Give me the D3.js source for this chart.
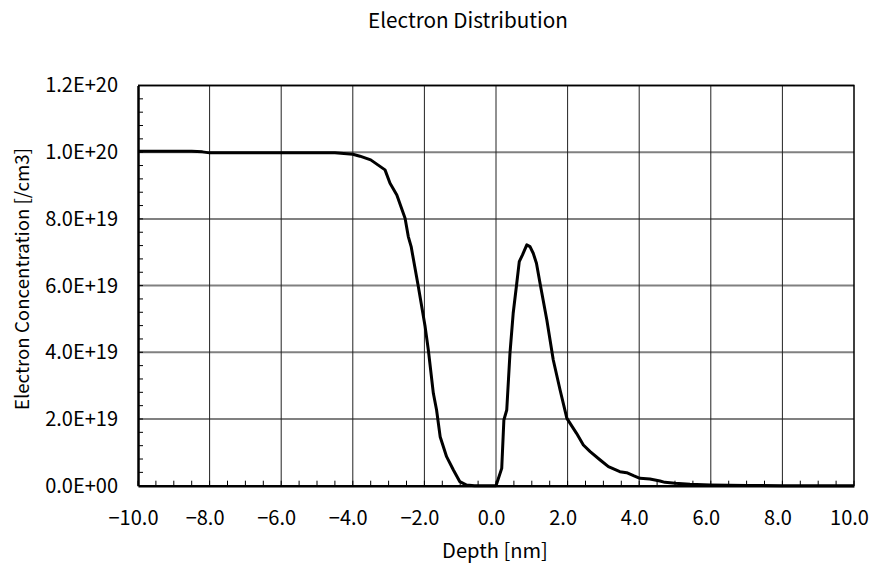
<!DOCTYPE html>
<html>
<head>
<meta charset="utf-8">
<script src="https://cdn.jsdelivr.net/npm/d3@7"></script>
<style>
  body { margin: 0; background: #fff; }
  svg text { font-family: "Noto Sans CJK JP", "Noto Sans", sans-serif; fill: #000; }
</style>
</head>
<body>
<svg id="chart" width="869" height="565"></svg>
<script>
// depth [nm]
const depth = [-10, -9.5, -9, -8.5, -8.2, -8.0, -7, -6, -5, -4.5, -4.0, -3.8, -3.5, -3.3, -3.1,
  -2.96, -2.77, -2.54, -2.45, -2.37, -2.17, -1.98, -1.89, -1.75, -1.66, -1.56, -1.38, -1.19,
  -1.01, -0.82, -0.6, -0.4, -0.2, 0.0, 0.16, 0.22, 0.30, 0.39, 0.48, 0.58, 0.65, 0.74, 0.86,
  0.95, 1.04, 1.13, 1.23, 1.42, 1.60, 1.79, 1.98, 2.07, 2.25, 2.44, 2.63, 2.91, 3.14, 3.46,
  3.65, 3.84, 4.02, 4.30, 4.58, 4.72, 5.0, 5.42, 5.98, 6.5, 7, 8, 9, 10];
// electron concentration [/cm3]
const conc = [1.003e20, 1.003e20, 1.003e20, 1.003e20, 1.001e20, 9.98e19, 9.98e19, 9.98e19,
  9.98e19, 9.98e19, 9.94e19, 9.88e19, 9.77e19, 9.62e19, 9.47e19,
  9.07e19, 8.72e19, 8.02e19, 7.47e19, 7.17e19, 5.97e19, 4.77e19, 4.07e19, 2.77e19, 2.27e19,
  1.47e19, 8.7e18, 4.7e18, 1.2e18, 2e17, 0, 0, 0, 0, 5.2e18, 1.97e19, 2.27e19, 3.97e19,
  5.17e19, 6.07e19, 6.72e19, 6.92e19, 7.22e19, 7.17e19, 6.97e19, 6.67e19, 6.07e19, 4.97e19,
  3.77e19, 2.87e19, 2.02e19, 1.87e19, 1.57e19, 1.22e19, 1.02e19, 7.7e18, 5.7e18, 4.2e18,
  3.9e18, 3.0e18, 2.2e18, 2.0e18, 1.4e18, 1.0e18, 7e17, 4e17, 2e17, 1e17, 5e16, 0, 0, 0];

const xTicks = [-10, -8, -6, -4, -2, 0, 2, 4, 6, 8, 10];
const yTicks = [0, 2e19, 4e19, 6e19, 8e19, 1e20, 1.2e20];
const xMinor = d3.range(-10, 10.001, 0.5);
const yMinor = d3.range(0, 1.2e20 + 1, 4e18);

const plotL = 138, plotR = 854, plotT = 85.5, plotB = 485.7;
const font = '"Noto Sans CJK JP", "Noto Sans", sans-serif';
const svg = d3.select('#chart');

const x = d3.scaleLinear().domain([-10, 10]).range([plotL, plotR]);
const y = d3.scaleLinear().domain([0, 1.2e20]).range([plotB, plotT]);

const fmtX = d => (d < 0 ? '\u2212' : '') + Math.abs(d).toFixed(1);
const fmtY = d => {
  if (d === 0) return '0.0E+00';
  const e = Math.floor(Math.log10(d) + 1e-9);
  const m = d / Math.pow(10, e);
  return m.toFixed(1) + 'E+' + String(e).padStart(2, '0');
};

// horizontal grid
svg.append('g')
  .selectAll('line')
  .data(yTicks.slice(1))
  .enter().append('line')
  .attr('x1', plotL).attr('x2', plotR)
  .attr('y1', d => y(d)).attr('y2', d => y(d))
  .attr('stroke', '#808080')
  .attr('stroke-width', 2);

// vertical grid
svg.append('g')
  .selectAll('line')
  .data(xTicks.slice(1, -1))
  .enter().append('line')
  .attr('x1', d => x(d)).attr('x2', d => x(d))
  .attr('y1', plotT).attr('y2', plotB)
  .attr('stroke', '#222')
  .attr('stroke-width', 1);

// minor ticks (inside)
svg.append('g')
  .selectAll('line')
  .data(xMinor)
  .enter().append('line')
  .attr('x1', d => x(d)).attr('x2', d => x(d))
  .attr('y1', plotB).attr('y2', plotB - 5)
  .attr('stroke', '#000');
svg.append('g')
  .selectAll('line')
  .data(yMinor)
  .enter().append('line')
  .attr('x1', plotL).attr('x2', plotL + 5)
  .attr('y1', d => y(d)).attr('y2', d => y(d))
  .attr('stroke', '#000');

// top / right frame
svg.append('path')
  .attr('d', `M${plotL},${plotT}H${plotR}V${plotB}`)
  .attr('fill', 'none')
  .attr('stroke', '#000')
  .attr('stroke-width', 1.5);

// curve
const line = d3.line()
  .x((d, i) => x(depth[i]))
  .y(d => y(d));
svg.append('path')
  .datum(conc)
  .attr('d', line)
  .attr('fill', 'none')
  .attr('stroke', '#000')
  .attr('stroke-width', 3)
  .attr('stroke-linejoin', 'round');

// axes
const xAxis = svg.append('g')
  .attr('transform', `translate(0,${plotB})`)
  .call(d3.axisBottom(x).tickValues(xTicks).tickFormat(fmtX).tickSize(0).tickPadding(25));
const yAxis = svg.append('g')
  .attr('transform', `translate(${plotL},0)`)
  .call(d3.axisLeft(y).tickValues(yTicks).tickFormat(fmtY).tickSize(0).tickPadding(20));
[xAxis, yAxis].forEach(g => {
  g.attr('font-family', font).attr('font-size', 20);
  g.select('.domain').attr('stroke', '#000').attr('stroke-width', 2.5);
});
xAxis.selectAll('text').attr('dx', -5);

// titles
svg.append('text')
  .attr('x', 468).attr('y', 28)
  .attr('text-anchor', 'middle')
  .attr('font-size', 20.7)
  .text('Electron Distribution');
svg.append('text')
  .attr('x', 495).attr('y', 558)
  .attr('text-anchor', 'middle')
  .attr('font-size', 20.1)
  .text('Depth [nm]');
svg.append('text')
  .attr('transform', 'translate(29,279) rotate(-90)')
  .attr('text-anchor', 'middle')
  .attr('font-size', 18.7)
  .text('Electron Concentration [/cm3]');
</script>
</body>
</html>
